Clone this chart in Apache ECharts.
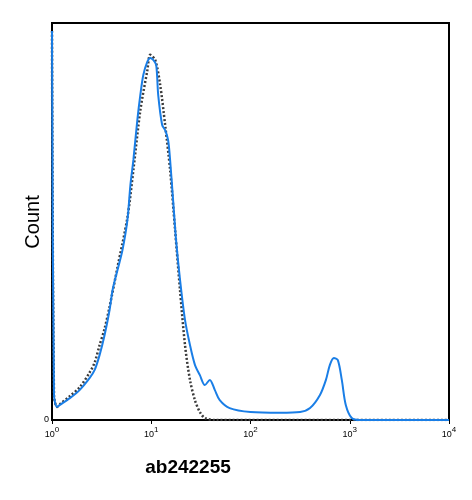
<!DOCTYPE html>
<html>
<head>
<meta charset="utf-8">
<script src="https://cdn.jsdelivr.net/npm/echarts@6/dist/echarts.min.js"></script>
<style>html,body{margin:0;padding:0;background:#fff}#chart{width:472px;height:500px}</style>
</head>
<body>
<div id="chart"></div>
<script>
// x values are log10 of the fluorescence intensity
var blueX = [0, 0.02, 0.05, 0.08, 0.18, 0.28, 0.38, 0.43, 0.48, 0.53, 0.58, 0.61, 0.66, 0.71, 0.76, 0.79, 0.82, 0.86, 0.89, 0.92, 0.96, 0.99, 1.02, 1.05, 1.07, 1.11, 1.14, 1.17, 1.19, 1.22, 1.25, 1.29, 1.34, 1.39, 1.44, 1.49, 1.54, 1.59, 1.64, 1.69, 1.79, 2.0, 2.3, 2.5, 2.6, 2.7, 2.76, 2.8, 2.84, 2.88, 2.92, 2.96, 3.02, 3.1, 4];
var blueY = [98, 6.3, 3.3, 3.8, 5.5, 7.6, 10.6, 12.6, 16.4, 21.4, 27.7, 32.7, 37.8, 42.8, 50.4, 59.2, 65.5, 75.6, 81.9, 86.9, 90.2, 91.2, 90.7, 89.4, 81.9, 74.3, 73, 70.5, 65.5, 55.4, 45.3, 35.3, 25.2, 18.9, 13.9, 11.3, 8.8, 10.1, 7.6, 5, 3, 2, 1.8, 2, 3, 6.3, 10.1, 13.9, 15.6, 15.1, 10.1, 3.8, 0.5, 0, 0];
var grayX = [0, 0.02, 0.05, 0.08, 0.18, 0.28, 0.38, 0.43, 0.48, 0.53, 0.58, 0.66, 0.76, 0.82, 0.89, 0.96, 0.99, 1.04, 1.09, 1.14, 1.19, 1.24, 1.29, 1.34, 1.39, 1.44, 1.49, 1.54, 1.64, 4];
var grayY = [98, 6.3, 3.3, 4, 6, 8.3, 12, 14.5, 18.9, 23, 28.5, 38.5, 51, 63, 78, 88, 92, 90.7, 84.4, 74.3, 63, 47.9, 32.7, 18.9, 10.1, 5, 2, 0.5, 0, 0];
var xTicks = ['0', '1', '2', '3', '4'];

function pairs(xs, ys) {
	return xs.map(function (x, i) { return [x, ys[i]]; });
}

var dom = document.getElementById('chart');
var myChart = echarts.init(dom, null, { renderer: 'canvas' });

var option = {
	animation: false,
	grid: {
		left: 52, right: 23, top: 23, bottom: 80,
		show: true, borderColor: '#000', borderWidth: 2
	},
	graphic: [{
		type: 'text', x: 33, y: 222, rotation: Math.PI / 2,
		style: { text: 'Count', fontFamily: 'Liberation Sans', fontSize: 20, fill: '#000', align: 'center', verticalAlign: 'middle' }
	}],
	xAxis: {
		type: 'value', min: 0, max: 4, interval: 1,
		name: 'ab242255', nameLocation: 'middle', nameGap: 38,
		nameTextStyle: { fontFamily: 'Liberation Sans', fontWeight: 'bold', fontSize: 19, color: '#000', padding: [0, 125, 0, 0] },
		axisLine: { lineStyle: { color: '#000', width: 2 } },
		axisTick: { length: 4, lineStyle: { color: '#000' } },
		splitLine: { show: false },
		axisLabel: {
			margin: 4,
			formatter: function (v) { return '{b|10}{s|' + xTicks[v] + '}'; },
			rich: {
				b: { fontSize: 9, color: '#000', fontFamily: 'Liberation Sans', padding: [6, 0, 0, 0] },
				s: { fontSize: 8, color: '#000', fontFamily: 'Liberation Sans', padding: [0, 0, 4, 0] }
			}
		}
	},
	yAxis: {
		type: 'value', min: 0, max: 100,
		axisLine: { lineStyle: { color: '#000', width: 2 } },
		axisTick: { show: false },
		splitLine: { show: false },
		axisLabel: {
			margin: 3, fontSize: 9, color: '#000',
			formatter: function (v) { return v === 0 ? '0' : ''; }
		}
	},
	series: [
		{
			type: 'line', data: pairs(grayX, grayY), symbol: 'none', smooth: 0.3,
			lineStyle: { color: '#3c3c3c', width: 2.5, type: [2, 2] }, z: 2
		},
		{
			type: 'line', data: pairs(blueX, blueY), symbol: 'none', smooth: 0.3,
			lineStyle: { color: '#1a7ee6', width: 2 }, z: 3
		}
	]
};

myChart.setOption(option);
window.addEventListener('resize', myChart.resize);
</script>
</body>
</html>
